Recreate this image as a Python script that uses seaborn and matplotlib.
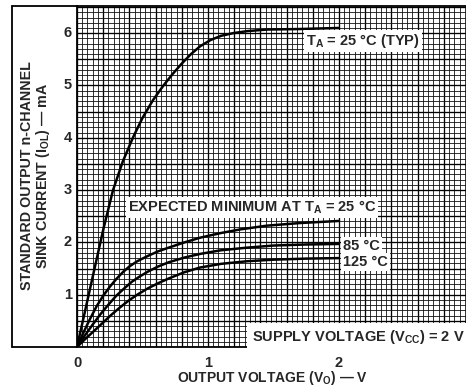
import numpy as np
import pandas as pd
import matplotlib
matplotlib.use("Agg")
import matplotlib.pyplot as plt
from matplotlib.lines import Line2D
import seaborn as sns

# curve data (V in volts, I in mA)
v_typ = [0, 0.1, 0.2, 0.275, 0.35, 0.43, 0.5, 0.58, 0.66, 0.73, 0.8, 0.87, 0.94,
         1.02, 1.1, 1.19, 1.3, 1.45, 1.7, 2.0]
i_typ = [0, 1.12, 2.24, 3.0, 3.55, 4.02, 4.38, 4.72, 5.0, 5.22, 5.42, 5.6, 5.75,
         5.87, 5.95, 6.0, 6.04, 6.07, 6.08, 6.1]

v_min25 = [0, 0.05, 0.1, 0.15, 0.2, 0.25, 0.3, 0.35, 0.4, 0.46, 0.54, 0.62, 0.7,
           0.82, 0.94, 1.1, 1.25, 1.45, 1.7, 2.0]
i_min25 = [0, 0.28, 0.54, 0.78, 0.98, 1.15, 1.3, 1.43, 1.54, 1.64, 1.74, 1.83, 1.9,
           2.0, 2.09, 2.18, 2.25, 2.32, 2.37, 2.41]

v_85 = [0, 0.06, 0.12, 0.18, 0.24, 0.3, 0.36, 0.42, 0.48, 0.54, 0.62, 0.7, 0.82,
        0.94, 1.1, 1.3, 1.5, 1.75, 2.0]
i_85 = [0, 0.22, 0.43, 0.63, 0.81, 0.98, 1.12, 1.25, 1.35, 1.44, 1.54, 1.62, 1.71,
        1.78, 1.85, 1.9, 1.94, 1.96, 1.97]

v_125 = [0, 0.07, 0.14, 0.2, 0.26, 0.32, 0.39, 0.46, 0.54, 0.62, 0.7, 0.82, 0.94,
         1.1, 1.3, 1.5, 1.75, 2.0]
i_125 = [0, 0.17, 0.33, 0.47, 0.61, 0.74, 0.88, 1.0, 1.12, 1.22, 1.31, 1.43, 1.52,
         1.59, 1.64, 1.67, 1.69, 1.70]

x_ticks = [0, 1, 2]
y_ticks = [1, 2, 3, 4, 5, 6]

sns.set_style("white")
plt.rcParams['font.family'] = ['Liberation Sans', 'DejaVu Sans']
plt.rcParams['font.weight'] = 'bold'
plt.rcParams['mathtext.fontset'] = 'custom'
plt.rcParams['mathtext.rm'] = 'Liberation Sans:bold'
plt.rcParams['mathtext.it'] = 'Liberation Sans:bold'
plt.rcParams['mathtext.bf'] = 'Liberation Sans:bold'

W, H = 466, 389
fig = plt.figure(figsize=(W / 100, H / 100), dpi=100)
x0, x1, y0, y1 = 77, 470, 6, 347
ax = fig.add_axes([x0 / W, 1 - y1 / H, (x1 - x0) / W, (y1 - y0) / H])

ax.set_xlim(0, 3.0)
ax.set_ylim(0, 6.52)

# graph paper grid
ax.set_xticks(np.arange(0, 3.01, 0.04), minor=True)
ax.set_yticks(np.arange(0, 6.6, 0.1), minor=True)
ax.grid(which='minor', color='#111111', lw=0.6)
ax.set_xticks(np.arange(0, 3.01, 0.2))
ax.set_yticks(np.arange(0, 6.6, 0.5))
ax.grid(which='major', color='#000000', lw=0.95)
ax.tick_params(which='both', length=0)

curves = [(v_typ, i_typ), (v_min25, i_min25), (v_85, i_85), (v_125, i_125)]
for v, i in curves:
    sns.lineplot(x=v, y=i, color='black', lw=1.8, ax=ax, zorder=5)

# tick labels drawn as text so that only 0,1,2 / 1..6 show
ax.set_xticklabels([])
ax.set_yticklabels([])
for t in x_ticks:
    ax.text(t, -0.18, str(t), ha='center', va='top', fontsize=10.5,
            fontweight='bold', clip_on=False)
for t in y_ticks:
    ax.text(-0.04, t, str(t), ha='right', va='center', fontsize=10.5,
            fontweight='bold', clip_on=False)

for s in ['left', 'bottom', 'top']:
    ax.spines[s].set_color('black')
    ax.spines[s].set_linewidth(1.3)
ax.spines['right'].set_visible(False)

box = dict(facecolor='white', edgecolor='none', pad=1.5)
ax.text(1.75, 5.85, r'T$_{A}$ = 25 °C (TYP)', fontsize=10.5, fontweight='bold',
        va='center', ha='left', bbox=box, zorder=6)
ax.text(0.39, 2.67, r'EXPECTED MINIMUM AT T$_{A}$ = 25 °C', fontsize=10.5,
        fontweight='bold', va='center', ha='left', bbox=box, zorder=6)
ax.text(2.03, 1.93, '85 °C', fontsize=10.5, fontweight='bold', va='center',
        ha='left', bbox=box, zorder=6)
ax.text(2.03, 1.63, '125 °C', fontsize=10.5, fontweight='bold', va='center',
        ha='left', bbox=box, zorder=6)
ax.text(2.96, 0.2, r'SUPPLY VOLTAGE (V$_{CC}$) = 2 V', fontsize=10.5,
        fontweight='bold', va='center', ha='right',
        bbox=dict(facecolor='white', edgecolor='none', pad=3.5), zorder=6)

fig.text(273 / W, 1 - 378 / H, r'OUTPUT VOLTAGE (V$_{O}$) — V', ha='center',
         va='center', fontsize=10, fontweight='bold')
fig.text(27 / W, 1 - 176 / H, 'STANDARD OUTPUT n-CHANNEL', rotation=90,
         ha='center', va='center', fontsize=10.3, fontweight='bold')
fig.text(43 / W, 1 - 176 / H, r'SINK CURRENT (I$_{OL}$) — mA', rotation=90,
         ha='center', va='center', fontsize=10.3, fontweight='bold')

# outer frame around the y label
fx = 12 / W
for (xa, ya, xb, yb) in [(fx, 1 - y0 / H, x0 / W, 1 - y0 / H),
                         (fx, 1 - y1 / H, x0 / W, 1 - y1 / H),
                         (fx, 1 - y0 / H, fx, 1 - y1 / H)]:
    fig.add_artist(Line2D([xa, xb], [ya, yb], color='black', lw=1.3))

fig.savefig('out.png', dpi=100)
